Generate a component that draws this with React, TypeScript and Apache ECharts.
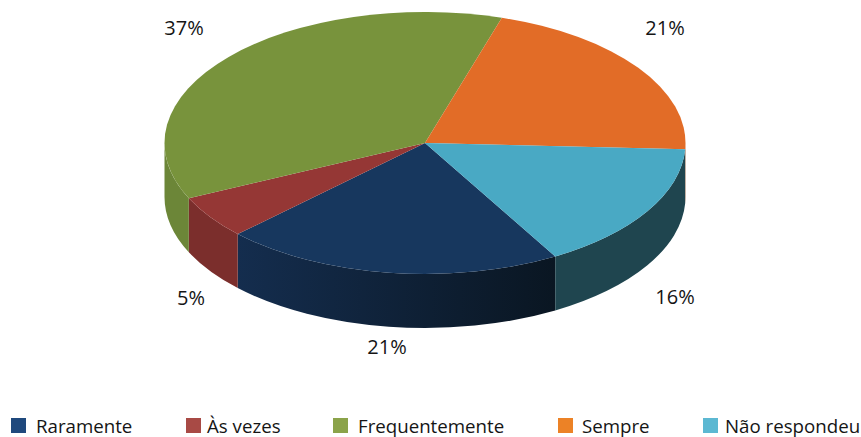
import React, { useEffect, useRef } from "react";
import * as echarts from "echarts";

const categories = ["Raramente", "Às vezes", "Frequentemente", "Sempre", "Não respondeu"];
const values = [21.1, 5.3, 36.7, 21, 15.9];

const topColors = ["#17375E", "#953735", "#78933C", "#E26C27", "#49A9C4"];
const sideStops = [
  ["#142D4E", "#0A1622"],
  ["#7B2E2C", "#7B2E2C"],
  ["#6C8638", "#6C8638"],
  ["#B5561F", "#B5561F"],
  ["#1F454F", "#1F454F"],
];
const legendColors = ["#1F497D", "#A84A45", "#8BA34A", "#EC8226", "#5CB8D2"];
const legendLeft = [11, 186, 333, 558, 703];
const legendTextGap = [5, 1, 5, 4, 2];
const labelCentres = [
  [387, 346],
  [191, 297],
  [184, 27],
  [665, 27],
  [675, 296],
];

const CX = 425;
const CY = 143;
const RX = 260.5;
const RY = 131;
const DEPTH = 54;
const START_DEG = 60;
const FONT = '"Open Sans", sans-serif';

const total = values.reduce((a, b) => a + b, 0);
const pt = (t: number, dy = 0) => [CX + RX * Math.cos(t), CY + dy + RY * Math.sin(t)];
const fmt = (p: number[]) => `${p[0].toFixed(2)} ${p[1].toFixed(2)}`;

function arcTo(t0: number, t1: number, dy = 0, rev = false) {
  const large = Math.abs(t1 - t0) > Math.PI ? 1 : 0;
  return `A ${RX} ${RY} 0 ${large} ${rev ? 0 : 1} ${fmt(pt(t1, dy))}`;
}

function renderSlice(index: number) {
  return (_params: any, api: any) => {
    const before = values.slice(0, index).reduce((a, b) => a + b, 0);
    const t0 = ((START_DEG + (before / total) * 360) * Math.PI) / 180;
    const t1 = t0 + (Number(api.value(0)) / total) * Math.PI * 2;
    const children: any[] = [];
    // visible front wall: the part of the slice's arc in the lower half of the ellipse
    const segs = [
      [t0, t1],
      [t0 - 2 * Math.PI, t1 - 2 * Math.PI],
    ];
    for (const [a, b] of segs) {
      const s = Math.max(a, 0);
      const e = Math.min(b, Math.PI);
      if (e > s) {
        const d = `M ${fmt(pt(s))} ${arcTo(s, e)} L ${fmt(pt(e, DEPTH))} ${arcTo(e, s, DEPTH, true)} Z`;
        children.push({
          type: "path",
          shape: { pathData: d },
          style: {
            fill: new echarts.graphic.LinearGradient(1, 0, 0, 0, [
              { offset: 0, color: sideStops[index][1] },
              { offset: 1, color: sideStops[index][0] },
            ]),
          },
        });
      }
    }
    const top = `M ${CX} ${CY} L ${fmt(pt(t0))} ${arcTo(t0, t1)} Z`;
    children.push({ type: "path", shape: { pathData: top }, style: { fill: topColors[index] } });
    children.push({
      type: "text",
      style: {
        x: labelCentres[index][0],
        y: labelCentres[index][1],
        text: `${Math.round(Number(api.value(0)))}%`,
        align: "center",
        verticalAlign: "middle",
        font: `20px ${FONT}`,
        fill: "#151515",
      },
    });
    return { type: "group", children };
  };
}

export default function App() {
  const ref = useRef<HTMLDivElement>(null);
  useEffect(() => {
    const chart = echarts.init(ref.current!, undefined, { renderer: "svg" });
    chart.setOption({
      animation: false,
      backgroundColor: "#ffffff",
      legend: categories.map((name, i) => ({
        left: legendLeft[i],
        top: 416,
        padding: 0,
        itemWidth: 15,
        itemHeight: 15,
        icon: "rect",
        selectedMode: false,
        textStyle: {
          fontFamily: FONT,
          fontSize: 18.7,
          color: "#151515",
          padding: [0, 0, 0, legendTextGap[i]],
        },
        data: [{ name, icon: "rect", itemStyle: { color: legendColors[i] } }],
      })),
      series: categories.map((name, i) => ({
        type: "custom",
        name,
        coordinateSystem: "none",
        silent: true,
        data: [[values[i]]],
        itemStyle: { color: legendColors[i] },
        renderItem: renderSlice(i),
      })),
    });
    return () => chart.dispose();
  }, []);
  return <div ref={ref} style={{ position: "absolute", left: 0, top: 0, width: 861, height: 437 }} />;
}
